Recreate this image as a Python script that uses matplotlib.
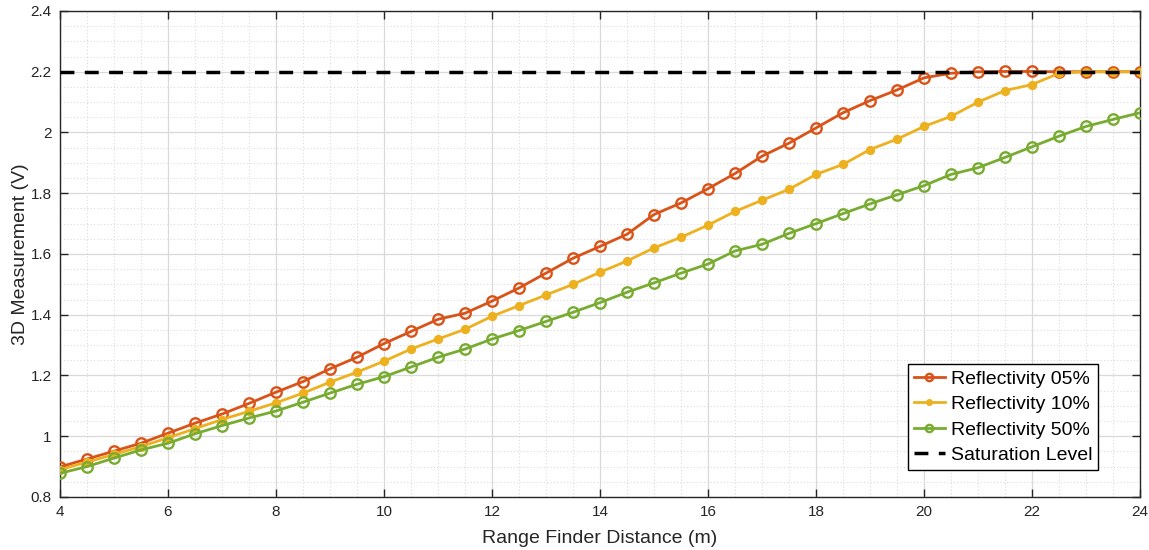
import numpy as np
import matplotlib
matplotlib.use('Agg')
import matplotlib.pyplot as plt
from matplotlib.ticker import MultipleLocator, FormatStrFormatter

plt.rcParams['font.family'] = ['Liberation Sans', 'DejaVu Sans']

# range finder distance (m)
distance = [4 + 0.5 * i for i in range(41)]

refl_05 = [0.899, 0.925, 0.951, 0.977, 1.010, 1.043, 1.073, 1.108, 1.145, 1.180,
           1.222, 1.260, 1.305, 1.345, 1.385, 1.405, 1.445, 1.488, 1.537, 1.586,
           1.625, 1.665, 1.730, 1.768, 1.815, 1.865, 1.922, 1.965, 2.015, 2.065,
           2.105, 2.140, 2.180, 2.195, 2.200, 2.201, 2.201, 2.200, 2.200, 2.200,
           2.200]

refl_10 = [0.890, 0.915, 0.940, 0.966, 0.995, 1.025, 1.055, 1.082, 1.110, 1.142,
           1.178, 1.211, 1.247, 1.287, 1.320, 1.352, 1.395, 1.430, 1.465, 1.500,
           1.540, 1.577, 1.620, 1.655, 1.695, 1.740, 1.777, 1.813, 1.862, 1.895,
           1.944, 1.978, 2.020, 2.053, 2.100, 2.138, 2.158, 2.195, 2.200, 2.200,
           2.200]

refl_50 = [0.878, 0.900, 0.928, 0.955, 0.977, 1.008, 1.035, 1.060, 1.083, 1.112,
           1.142, 1.171, 1.196, 1.228, 1.260, 1.287, 1.320, 1.348, 1.378, 1.408,
           1.440, 1.474, 1.505, 1.537, 1.567, 1.610, 1.632, 1.668, 1.700, 1.733,
           1.765, 1.795, 1.825, 1.862, 1.884, 1.918, 1.953, 1.988, 2.020, 2.043,
           2.065]

saturation = 2.2

fig = plt.figure(figsize=(11.49, 5.5), dpi=100)
ax = fig.add_axes([0.0522, 0.0964, 0.9400, 0.8836])

ax.plot(distance, refl_05, '-o', color='#D95319', lw=2, ms=7.5, mfc='none',
        mew=1.7, label='Reflectivity 05%', zorder=3)
ax.plot(distance, refl_10, '-o', color='#EDB120', lw=2, ms=5.5, mfc='#EDB120',
        mew=1.2, label='Reflectivity 10%', zorder=3)
ax.plot(distance, refl_50, '-o', color='#77AC30', lw=2, ms=7.5, mfc='none',
        mew=1.7, label='Reflectivity 50%', zorder=3)
ax.axhline(saturation, color='black', ls=(0, (4, 3)), lw=2.5,
           label='Saturation Level', zorder=4)

ax.set_xlim(4, 24)
ax.set_ylim(0.8, 2.4)
ax.xaxis.set_major_locator(MultipleLocator(2))
ax.xaxis.set_minor_locator(MultipleLocator(0.5))
ax.yaxis.set_major_locator(MultipleLocator(0.2))
ax.yaxis.set_minor_locator(MultipleLocator(0.05))
ax.yaxis.set_major_formatter(FormatStrFormatter('%g'))
ax.xaxis.set_major_formatter(FormatStrFormatter('%g'))

ax.grid(which='major', color='#d9d9d9', lw=0.9, ls='-')
ax.grid(which='minor', color='#dcdcdc', lw=0.8, ls=(0, (1, 2)))
ax.set_axisbelow(True)

ax.tick_params(which='major', direction='in', top=True, right=True,
               length=6, width=1, colors='#262626', labelsize=11, pad=6)
ax.tick_params(which='minor', length=0, top=True, right=True)
for s in ax.spines.values():
    s.set_color('#262626')
    s.set_linewidth(1)

ax.set_xlabel('Range Finder Distance (m)', fontsize=14, color='#262626', labelpad=8)
ax.set_ylabel('3D Measurement (V)', fontsize=14, color='#262626', labelpad=1)

leg = ax.legend(loc='lower right', bbox_to_anchor=(0.961, 0.056), fontsize=14,
                frameon=True, fancybox=False, framealpha=1, edgecolor='black',
                borderpad=0.3, labelspacing=0.4, handlelength=1.6,
                handletextpad=0.3, borderaxespad=0, markerscale=0.7)
leg.get_frame().set_linewidth(1)

fig.savefig('out.png', dpi=100)
